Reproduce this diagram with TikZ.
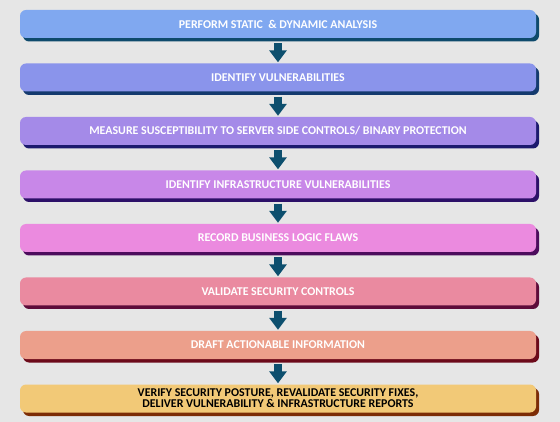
\documentclass[tikz,border=0pt]{standalone}
\usepackage{fontspec}
\setmainfont{Carlito}
\usetikzlibrary{positioning,shadows,arrows.meta}

\definecolor{backdrop}{HTML}{E6E6E6}
\definecolor{flowarrow}{HTML}{0D4F6E}
\definecolor{fillA}{HTML}{80A8F0}
\definecolor{fillB}{HTML}{8A94EB}
\definecolor{fillC}{HTML}{A48AE8}
\definecolor{fillD}{HTML}{C887E8}
\definecolor{fillE}{HTML}{EB8ADF}
\definecolor{fillF}{HTML}{EA8AA0}
\definecolor{fillG}{HTML}{EC9F8B}
\definecolor{fillH}{HTML}{F2C977}
\definecolor{darkA}{HTML}{0E4A6C}
\definecolor{darkB}{HTML}{143A6E}
\definecolor{darkC}{HTML}{1C1A6E}
\definecolor{darkD}{HTML}{2C1068}
\definecolor{darkE}{HTML}{4C0C5C}
\definecolor{darkF}{HTML}{5E0C3A}
\definecolor{darkG}{HTML}{6C0A1A}
\definecolor{darkH}{HTML}{7C2C06}

\begin{document}
\begin{tikzpicture}[
    stage/.style 2 args={rounded corners=6pt, minimum width=516pt, minimum height=28pt,
        inner sep=1pt, align=center, text=white, font=\fontsize{11.9}{11}\selectfont\bfseries,
        fill=#1, general shadow={fill=#2, shadow xshift=3pt, shadow yshift=-3.5pt}},
    flow/.style={draw=flowarrow, line width=8pt, shorten <=5pt, shorten >=1pt,
        -{Triangle[width=17pt, length=12pt]}},
    node distance=25.1pt
]
    \fill[backdrop] (0,0) rectangle (560pt,-422pt);
    \useasboundingbox (0,0) rectangle (560pt,-422pt);

    \node[stage={fillA}{darkA}] (perform) at (278pt,-24pt) {PERFORM STATIC \ \& DYNAMIC ANALYSIS};
    \node[stage={fillB}{darkB}, below=of perform] (identify) {IDENTIFY VULNERABILITIES};
    \node[stage={fillC}{darkC}, below=of identify] (measure) {MEASURE SUSCEPTIBILITY TO SERVER SIDE CONTROLS/ BINARY PROTECTION};
    \node[stage={fillD}{darkD}, below=of measure] (infra) {IDENTIFY INFRASTRUCTURE VULNERABILITIES};
    \node[stage={fillE}{darkE}, below=of infra] (logic) {RECORD BUSINESS LOGIC FLAWS};
    \node[stage={fillF}{darkF}, below=of logic] (validate) {VALIDATE SECURITY CONTROLS};
    \node[stage={fillG}{darkG}, below=of validate] (draft) {DRAFT ACTIONABLE INFORMATION};
    \node[stage={fillH}{darkH}, below=of draft, text=black] (verify)
        {VERIFY SECURITY POSTURE, REVALIDATE SECURITY FIXES,\\ DELIVER VULNERABILITY \& INFRASTRUCTURE REPORTS};

    \draw[flow] (perform) -- (identify);
    \draw[flow] (identify) -- (measure);
    \draw[flow] (measure) -- (infra);
    \draw[flow] (infra) -- (logic);
    \draw[flow] (logic) -- (validate);
    \draw[flow] (validate) -- (draft);
    \draw[flow] (draft) -- (verify);
\end{tikzpicture}
\end{document}
